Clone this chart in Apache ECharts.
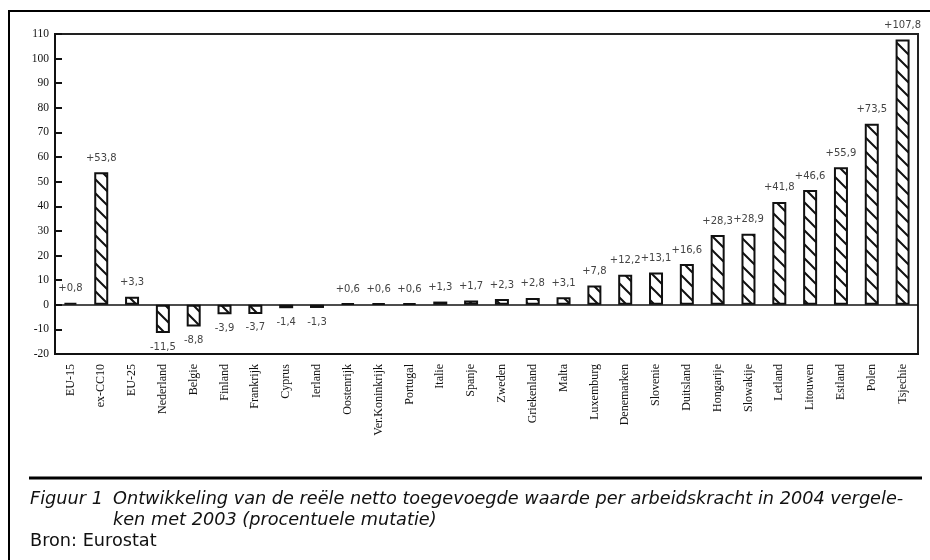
<!DOCTYPE html>
<html><head><meta charset="utf-8">
<script src="https://cdn.jsdelivr.net/npm/echarts@6/dist/echarts.min.js"></script>
<style>html,body{margin:0;padding:0;background:#fff}#c{width:930px;height:560px}</style>
</head><body><div id="c"></div>
<script>
const categories = ['EU-15','ex-CC10','EU-25','Nederland','Belgie','Finland','Frankrijk','Cyprus','Ierland','Oostenrijk','Ver.Koninkrijk','Portugal','Italie','Spanje','Zweden','Griekenland','Malta','Luxemburg','Denemarken','Slovenie','Duitsland','Hongarije','Slowakije','Letland','Litouwen','Estland','Polen','Tsjechie'];
const values = [0.8,53.8,3.3,-11.5,-8.8,-3.9,-3.7,-1.4,-1.3,0.6,0.6,0.6,1.3,1.7,2.3,2.8,3.1,7.8,12.2,13.1,16.6,28.3,28.9,41.8,46.6,55.9,73.5,107.8];
const yMin = -20, yMax = 110, yStep = 10;
const captionLabel = 'Figuur 1';
const captionLine1 = 'Ontwikkeling van de reële netto toegevoegde waarde per arbeidskracht in 2004 vergele-';
const captionLine2 = 'ken met 2003 (procentuele mutatie)';
const sourceText = 'Bron: Eurostat';

function hatch(){
  const s = 14;
  const c = document.createElement('canvas'); c.width = s; c.height = s;
  const g = c.getContext('2d');
  g.fillStyle = '#fff'; g.fillRect(0,0,s,s);
  g.strokeStyle = '#111'; g.lineWidth = 2;
  g.beginPath();
  g.moveTo(-2,-2); g.lineTo(s+2,s+2);
  g.moveTo(-2,s-2); g.lineTo(2,s+2);
  g.moveTo(s-2,-2); g.lineTo(s+2,2);
  g.stroke();
  return c;
}
const pat = {image: hatch(), repeat: 'repeat'};
const fmt = v => (v > 0 ? '+' : '') + v.toFixed(1).replace('.', ',');
const capFont = {fontFamily: '"DejaVu Sans", sans-serif', fontSize: 17.7, fill: '#111', verticalAlign: 'middle'};

const chart = echarts.init(document.getElementById('c'), null, {renderer:'canvas'});
chart.setOption({
  animation: false,
  grid: {left: 55, right: 12, top: 34, bottom: 206, show: true, borderColor: '#222', borderWidth: 2, backgroundColor: 'transparent'},
  xAxis: {
    type: 'category', data: categories,
    axisLine: {onZero: false, lineStyle: {color: '#111', width: 2}},
    axisTick: {show: false},
    axisLabel: {rotate: 90, interval: 0, margin: 10, fontFamily: '"Liberation Serif", serif', fontSize: 12, color: '#111'}
  },
  yAxis: {
    type: 'value', min: yMin, max: yMax, interval: yStep,
    axisLine: {show: true, lineStyle: {color: '#111', width: 2}},
    axisTick: {show: true, inside: true, length: 7, lineStyle: {color: '#111', width: 2}},
    splitLine: {show: false},
    axisLabel: {margin: 6, fontFamily: '"Liberation Serif", serif', fontSize: 11.5, color: '#111'}
  },
  series: [{
    type: 'bar', barWidth: 14,
    data: values.map(v => ({value: v, label: {position: v < 0 ? 'bottom' : 'top'}})),
    itemStyle: {color: pat, borderColor: '#111', borderWidth: 2},
    label: {show: true, distance: 9, formatter: p => fmt(p.value), fontFamily: '"DejaVu Sans", sans-serif', fontSize: 10, color: '#444'},
    markLine: {silent: true, symbol: 'none', label: {show: false}, lineStyle: {color: '#111', width: 1.5, type: 'solid'}, data: [{yAxis: 0}]}
  }],
  graphic: [
    {type: 'line', shape: {x1: 9, y1: 11, x2: 930, y2: 11}, style: {stroke: '#000', lineWidth: 2}},
    {type: 'line', shape: {x1: 9, y1: 10, x2: 9, y2: 560}, style: {stroke: '#000', lineWidth: 2}},
    {type: 'line', shape: {x1: 29, y1: 478, x2: 922, y2: 478}, style: {stroke: '#000', lineWidth: 3}},
    {type: 'text', x: 30, y: 499, style: Object.assign({text: captionLabel, fontStyle: 'italic'}, capFont)},
    {type: 'text', x: 113, y: 499, style: Object.assign({text: captionLine1, fontStyle: 'italic'}, capFont)},
    {type: 'text', x: 113, y: 520, style: Object.assign({text: captionLine2, fontStyle: 'italic'}, capFont)},
    {type: 'text', x: 30, y: 541, style: Object.assign({text: sourceText}, capFont)}
  ]
});
</script></body></html>
